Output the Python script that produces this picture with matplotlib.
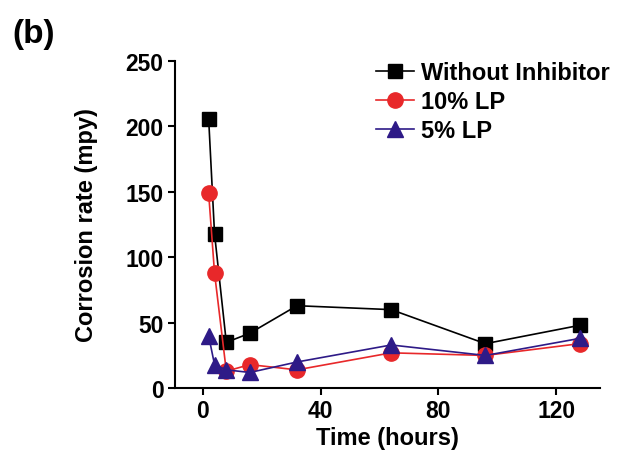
import matplotlib.pyplot as plt

plt.rcParams['font.family'] = ['Liberation Sans', 'DejaVu Sans']
plt.rcParams['font.weight'] = 'bold'

time_h = [2, 4, 8, 16, 32, 64, 96, 128]
without_inhibitor = [206, 118, 35, 42, 63, 60, 34, 48]
lp_10 = [149, 88, 13, 18, 14, 27, 25, 34]
lp_5 = [40, 18, 14, 12, 20, 33, 25, 38]

fig = plt.figure(figsize=(6.22, 4.52), dpi=100)
ax = fig.add_axes([0.281, 0.139, 0.684, 0.724])

ax.plot(time_h, without_inhibitor, color='black', marker='s', markersize=10, lw=1.2,
        label='Without Inhibitor')
ax.plot(time_h, lp_10, color='#E8282A', marker='o', markersize=11, lw=1.2, label='10% LP')
ax.plot(time_h, lp_5, color='#2E1A87', marker='^', markersize=11, lw=1.2, label='5% LP')

ax.set_xlim(-9.5, 135)
ax.set_ylim(0, 250)
ax.set_xticks([0, 40, 80, 120])
ax.set_yticks([0, 50, 100, 150, 200, 250])
ax.spines['top'].set_visible(False)
ax.spines['right'].set_visible(False)
ax.spines['left'].set_linewidth(1.5)
ax.spines['bottom'].set_linewidth(1.5)
ax.tick_params(labelsize=16.5, width=1.5, length=5, pad=3)
for lbl in ax.get_xticklabels() + ax.get_yticklabels():
    lbl.set_fontweight('bold')

ax.set_xlabel('Time (hours)', fontsize=17, fontweight='bold', labelpad=2.5)
ax.set_ylabel('Corrosion rate (mpy)', fontsize=17, fontweight='bold', labelpad=20)

ax.legend(loc='upper right', bbox_to_anchor=(1.056, 1.042), frameon=False, fontsize=17,
          handlelength=1.6, handletextpad=0.3, labelspacing=0.25, borderaxespad=0.2)

fig.text(0.02, 0.905, '(b)', fontsize=24, fontweight='bold')

fig.savefig('out.png', dpi=100)
